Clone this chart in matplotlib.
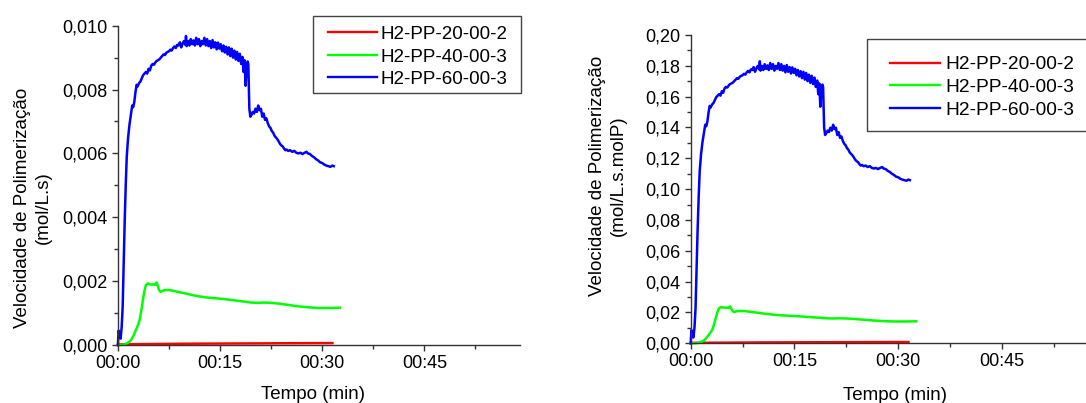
import numpy as np
import matplotlib
matplotlib.use("Agg")
import matplotlib.pyplot as plt
from matplotlib.ticker import MultipleLocator, FuncFormatter
from matplotlib.lines import Line2D
from matplotlib.patches import Rectangle

plt.rcParams['font.family'] = ['Liberation Sans', 'DejaVu Sans']

run_names = ["H2-PP-20-00-2", "H2-PP-40-00-3", "H2-PP-60-00-3"]
run_colors = ["#ff0000", "#00ff00", "#0000ff"]

# Reaction time (min) and polymerization rate (1e-3 mol/L.s) for each run
t_20 = [0.0, 0.3, 2.0, 5.0, 10.0, 15.0, 20.0, 25.0, 31.5]
r_20 = [0.0, 0.02, 0.025, 0.03, 0.04, 0.045, 0.05, 0.055, 0.06]

t_40 = [0.0, 0.6, 1.0, 1.3, 1.7, 2.0, 2.3, 2.6, 2.8, 3.0, 3.2, 3.45, 3.7, 3.9,
        4.1, 4.4, 4.7, 5.0, 5.3, 5.5, 5.7, 5.85, 6.05, 6.3, 6.6, 6.9, 7.6, 8.3,
        9.1, 10.0, 11.0, 12.0, 13.0, 14.0, 15.5, 17.0, 18.5, 19.5, 20.5, 21.5,
        22.5, 23.5, 24.5, 25.5, 26.5, 27.5, 28.5, 29.5, 30.5, 31.5, 32.6]
r_40 = [0.0, 0.005, 0.02, 0.05, 0.1, 0.18, 0.3, 0.45, 0.55, 0.65, 0.8, 1.1, 1.45, 1.7,
        1.87, 1.93, 1.9, 1.89, 1.9, 1.88, 1.96, 1.85, 1.72, 1.66, 1.7, 1.72, 1.72, 1.69,
        1.65, 1.61, 1.56, 1.52, 1.49, 1.47, 1.44, 1.4, 1.36, 1.33, 1.32, 1.33,
        1.32, 1.3, 1.27, 1.24, 1.21, 1.19, 1.17, 1.16, 1.16, 1.16, 1.17]

t_60 = [0.0, 0.1, 0.25, 0.4, 0.55, 0.7, 0.85, 1.0, 1.15, 1.3, 1.5, 1.7, 1.9, 2.1,
        2.25, 2.4, 2.6, 2.75, 2.9, 3.1, 3.3, 3.5, 3.7, 3.9, 4.1, 4.3, 4.5, 4.7,
        4.9, 5.1, 5.3, 5.5, 5.7, 5.9, 6.1, 6.3, 6.5, 6.7, 6.9, 7.1, 7.3, 7.5,
        7.7, 7.9, 8.1, 8.3, 8.5, 8.7, 8.9, 9.1, 9.3, 9.5, 9.7, 9.9, 10.0, 10.1,
        10.3, 10.5, 10.7, 10.9, 11.1, 11.3, 11.5, 11.7, 11.9, 12.1, 12.3, 12.5,
        12.7, 12.9, 13.1, 13.3, 13.5, 13.7, 13.9, 14.1, 14.3, 14.5, 14.7, 14.9,
        15.1, 15.3, 15.5, 15.7, 15.9, 16.1, 16.3, 16.5, 16.7, 16.9, 17.1, 17.3,
        17.5, 17.7, 17.9, 18.1, 18.3, 18.45, 18.6, 18.75, 18.9, 19.05, 19.15,
        19.3, 19.45, 19.6, 19.8, 20.0, 20.2, 20.4, 20.6, 20.8, 21.0, 21.2, 21.4,
        21.6, 21.8, 22.0, 22.2, 22.4, 22.6, 22.8, 23.0, 23.2, 23.4, 23.6, 23.8,
        24.0, 24.2, 24.4, 24.6, 24.8, 25.0, 25.3, 25.6, 25.9, 26.2, 26.5, 26.8,
        27.1, 27.4, 27.7, 27.9, 28.2, 28.5, 28.8, 29.1, 29.4, 29.7, 30.0, 30.3,
        30.6, 30.9, 31.2, 31.5, 31.7]
r_60 = [0.0, 0.45, 0.3, 0.2, 0.55, 1.2, 2.6, 3.9, 5.0, 5.9, 6.5, 6.9, 7.2, 7.5,
        7.45, 7.6, 7.95, 8.15, 8.1, 8.2, 8.25, 8.35, 8.45, 8.5, 8.55, 8.5, 8.65, 8.6,
        8.75, 8.8, 8.78, 8.85, 8.9, 8.92, 8.95, 9.0, 9.05, 9.1, 9.08, 9.15, 9.18, 9.2,
        9.25, 9.22, 9.3, 9.35, 9.3, 9.4, 9.38, 9.48, 9.32, 9.44, 9.52, 9.4, 9.68, 9.36,
        9.52, 9.38, 9.58, 9.42, 9.54, 9.38, 9.62, 9.42, 9.58, 9.36, 9.52, 9.42,
        9.62, 9.38, 9.58, 9.36, 9.52, 9.3, 9.55, 9.32, 9.48, 9.26, 9.47, 9.28,
        9.42, 9.2, 9.38, 9.16, 9.34, 9.1, 9.32, 9.05, 9.28, 9.0, 9.22, 8.94,
        9.18, 8.9, 9.12, 8.8, 9.02, 8.55, 8.92, 8.12, 8.7, 8.88, 8.8,
        7.4, 7.15, 7.2, 7.3, 7.25, 7.4, 7.3, 7.5, 7.35, 7.4, 7.15, 7.25,
        7.05, 7.1, 6.95, 6.85, 6.8, 6.7, 6.65, 6.55, 6.5, 6.45, 6.38, 6.3,
        6.25, 6.22, 6.15, 6.1, 6.12, 6.08, 6.1, 6.05, 6.08, 6.02, 6.0, 6.02,
        5.98, 6.02, 6.05, 6.0, 5.98, 5.92, 5.88, 5.82, 5.78, 5.72, 5.7, 5.65,
        5.62, 5.6, 5.58, 5.62, 5.6]

# Inverse of catalyst amount (1/mol P) used to normalise each run
inv_mol_p = [14.0, 12.2, 18.9]

times = [t_20, t_40, t_60]
rates = [r_20, r_40, r_60]

W, H = 1086, 403
fig = plt.figure(figsize=(W / 100, H / 100), dpi=100)


def px_axes(x0, y_top, x1, y_bottom):
    return fig.add_axes([x0 / W, 1 - y_bottom / H, (x1 - x0) / W, (y_bottom - y_top) / H])


def time_fmt(m, _):
    m = int(round(m))
    return f"{m // 60:02d}:{m % 60:02d}"


def comma_fmt(decimals):
    return FuncFormatter(lambda v, _: f"{v:.{decimals}f}".replace(".", ","))


spine_col = "#333333"


def style_axes(ax, ymax, ymajor, decimals):
    ax.set_xlim(0, 59)
    ax.set_ylim(0, ymax)
    for s in ("top", "right"):
        ax.spines[s].set_visible(False)
    for s in ("left", "bottom"):
        ax.spines[s].set_color(spine_col)
        ax.spines[s].set_linewidth(1.0)
    ax.xaxis.set_major_locator(MultipleLocator(15))
    ax.xaxis.set_minor_locator(MultipleLocator(7.5))
    ax.yaxis.set_major_locator(MultipleLocator(ymajor))
    ax.yaxis.set_minor_locator(MultipleLocator(ymajor / 2))
    ax.xaxis.set_major_formatter(FuncFormatter(time_fmt))
    ax.yaxis.set_major_formatter(comma_fmt(decimals))
    ax.tick_params(which="major", direction="out", length=4.5, width=1.0,
                   color=spine_col, labelsize=13, pad=3)
    ax.tick_params(which="minor", direction="out", length=2.8, width=1.0,
                   color=spine_col)
    ax.tick_params(axis="x", which="major", pad=2.5)


def draw_key(box, rows_y, handle_x, text_x, fontsize):
    """Boxed key: box=(x0, y0, x1, y1) in pixels from the top-left corner."""
    x0, y0, x1, y1 = box
    fig.add_artist(Rectangle((x0 / W, 1 - y1 / H), (x1 - x0) / W, (y1 - y0) / H,
                             transform=fig.transFigure, fill=False,
                             edgecolor="#444444", linewidth=1.0, clip_on=False))
    cap = 0.729 * fontsize * 100 / 72
    for name, col, y in zip(run_names, run_colors, rows_y):
        fig.add_artist(Line2D([handle_x[0] / W, handle_x[1] / W], [1 - y / H, 1 - y / H],
                              transform=fig.transFigure, color=col, lw=1.7))
        fig.text(text_x / W, 1 - (y + cap / 2) / H, name, ha="left",
                 va="baseline", fontsize=fontsize)


# Left: rate in mol/L.s
ax1 = px_axes(117.9, 25.7, 519.7, 345)
for name, col, t, r in zip(run_names, run_colors, times, rates):
    ax1.plot(t, np.array(r) * 1e-3, color=col, lw=1.8, label=name, clip_on=False)
style_axes(ax1, 0.010, 0.002, 3)
draw_key((313, 15.7, 520.7, 93), [32.3, 55.0, 77.3], (328, 376.5), 381, 13.5)

fig.text(32.7 / W, 1 - 208 / H, "Velocidade de Polimerização\n(mol/L.s)",
         rotation=90, ha="center", va="center", ma="center", fontsize=13.5,
         linespacing=1.3)
fig.text(313.3 / W, 1 - 399 / H, "Tempo (min)", ha="center", va="baseline",
         fontsize=13.5)

# Right: rate normalised by catalyst, mol/L.s.molP
ax2 = px_axes(690.7, 35, 1098.6, 343.3)
for name, col, t, r, k in zip(run_names, run_colors, times, rates, inv_mol_p):
    ax2.plot(t, np.array(r) * 1e-3 * k, color=col, lw=1.8, label=name, clip_on=False)
style_axes(ax2, 0.20, 0.02, 2)
draw_key((867.3, 39.3, 1095, 130.5), [62.5, 85.3, 108.0], (890, 940), 945, 13.8)

fig.text(607.9 / W, 1 - 176 / H, "Velocidade de Polimerização\n(mol/L.s.molP)",
         rotation=90, ha="center", va="center", ma="center", fontsize=13.5,
         linespacing=1.3)
fig.text(895 / W, 1 - 400.5 / H, "Tempo (min)", ha="center", va="baseline",
         fontsize=13.5)

fig.savefig("out.png", dpi=100)
